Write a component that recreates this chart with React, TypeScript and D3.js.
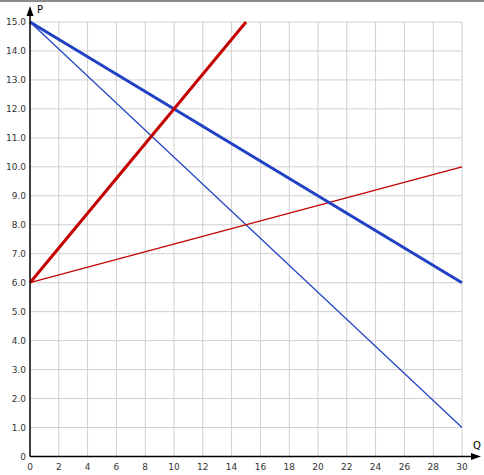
import React from 'react';
import * as d3 from 'd3';

const W = 484;
const H = 475;

const xTicks = d3.range(0, 31, 2);
const yTicks = d3.range(0, 16, 1);

// lines given as [Q, P] endpoints
const demandSteep = [[0, 15], [30, 1]];
const demandFlat = [[0, 15], [30, 6]];
const supplySteep = [[0, 6], [15, 15]];
const supplyFlat = [[0, 6], [30, 10]];

const BLUE = '#2041c4';
const RED = '#c40000';

export default function App() {
  const x = d3.scaleLinear().domain([0, 30]).range([30, 462]);
  const y = d3.scaleLinear().domain([0, 15]).range([456.5, 22]);
  const line = d3
    .line<number[]>()
    .x(d => x(d[0]))
    .y(d => y(d[1]));

  const series = [
    { pts: demandSteep, color: BLUE, w: 1.2 },
    { pts: supplyFlat, color: RED, w: 1.2 },
    { pts: demandFlat, color: BLUE, w: 3 },
    { pts: supplySteep, color: RED, w: 3 },
  ];

  const font = 'DejaVu Sans, Verdana, sans-serif';

  return (
    <svg
      width={W}
      height={H}
      style={{ position: 'absolute', left: 0, top: 0, background: '#fff' }}
    >
      <line x1={0} x2={W} y1={1} y2={1} stroke="#666" strokeWidth={1.5} />
      {/* grid */}
      <g stroke="#d0d0d0" strokeWidth={1}>
        {xTicks.filter(t => t > 0).map(t => (
          <line key={'gx' + t} x1={x(t)} x2={x(t)} y1={y(15)} y2={y(0)} />
        ))}
        {yTicks.filter(t => t > 0).map(t => (
          <line key={'gy' + t} x1={x(0)} x2={x(30)} y1={y(t)} y2={y(t)} />
        ))}
      </g>
      {/* series */}
      {series.map((s, i) => (
        <path key={i} d={line(s.pts) ?? ''} fill="none" stroke={s.color} strokeWidth={s.w} />
      ))}
      {/* axes */}
      <line x1={x(0)} x2={x(0)} y1={y(0)} y2={12} stroke="#000" strokeWidth={1.5} />
      <path d={`M${x(0)},6 L${x(0) - 3.5},16 L${x(0) + 3.5},16 Z`} fill="#000" />
      <line x1={x(0)} x2={474} y1={y(0)} y2={y(0)} stroke="#000" strokeWidth={1.5} />
      <path d={`M481,${y(0)} L471,${y(0) - 3.5} L471,${y(0) + 3.5} Z`} fill="#000" />
      {/* tick labels */}
      <g fontFamily={font} fontSize={9} fill="#333">
        {xTicks.map(t => (
          <text key={'tx' + t} x={x(t)} y={470} textAnchor="middle">
            {t}
          </text>
        ))}
        {yTicks.map(t => (
          <text key={'ty' + t} x={26} y={y(t) + 3} textAnchor="end">
            {t === 0 ? '0' : t.toFixed(1)}
          </text>
        ))}
      </g>
      <text x={37} y={13} fontFamily={font} fontSize={10} fill="#000">
        P
      </text>
      <text x={473} y={449} fontFamily={font} fontSize={10} fill="#000">
        Q
      </text>
    </svg>
  );
}
